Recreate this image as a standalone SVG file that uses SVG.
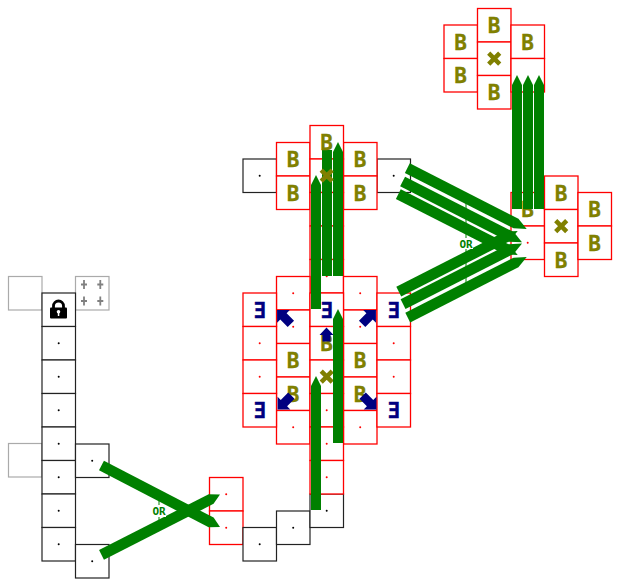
<svg xmlns="http://www.w3.org/2000/svg" width="620" height="586" viewBox="0 0 620 586">
<style>
.r{fill:#fff;stroke:#f00;stroke-width:1.300}
.k{fill:#fff;stroke:#222;stroke-width:1.200}
.g{fill:#fff;stroke:#aaa;stroke-width:1.200}
.b,.e{font-family:"DejaVu Sans Mono","Liberation Mono",monospace;font-weight:700;font-size:21px;text-anchor:middle;stroke-width:.3}
.b{fill:#808000;stroke:#808000}
.e{fill:#000080;stroke:#000080}
.a{fill:#008000}
.n{fill:#000080}
.or{font-family:"DejaVu Sans Mono","Liberation Mono",monospace;font-weight:700;font-size:11px;fill:#008000;text-anchor:middle}
.dr{fill:#f00}
.dk{fill:#000}
</style>
<defs>
<rect id="c" width="33.5" height="33.5"/>
<g id="x"><path d="M-5.500 -5.500L5.500 5.500M5.500 -5.500L-5.500 5.500" fill="none" stroke="#808000" stroke-width="4.500"/></g>
<path id="up" d="M0 -7.500L7 0H4V6.500H-4V0H-7Z"/>
<path id="dg" d="M0 -10.500L9 -1.500H4.500V9H-4.500V-1.500H-9Z"/>
<g id="p"><path d="M0 -4.500V4.500M-3 0H3" stroke="#808080" stroke-width="1.800" fill="none"/></g>
</defs>

<g id="n-gray1"><use href="#c" class="g" x="8.5" y="276.5"/></g>
<g id="n-gray2"><use href="#c" class="g" x="75.5" y="276.5"/><use href="#p" x="84" y="284.500"/><use href="#p" x="100.300" y="284.500"/><use href="#p" x="84" y="301"/><use href="#p" x="100.300" y="301"/></g>
<g id="n-gray3"><use href="#c" class="g" x="8.5" y="443.5"/></g>

<g id="n-col-lock"><use href="#c" class="k" x="42" y="293"/>
<path d="M53.500 308V306A5 5 0 0 1 63.500 306V308" fill="none" stroke="#000" stroke-width="2.800"/>
<rect x="50" y="307.500" width="17" height="11" rx="1"/>
<circle cx="58.500" cy="311.800" r="1.800" fill="#fff"/><rect x="57.800" y="312" width="1.500" height="4" fill="#fff"/></g>
<g id="n-col1"><use href="#c" class="k" x="42" y="326.500"/><circle class="dk" cx="58.700" cy="343.200" r="1"/></g>
<g id="n-col2"><use href="#c" class="k" x="42" y="360"/><circle class="dk" cx="58.700" cy="376.700" r="1"/></g>
<g id="n-col3"><use href="#c" class="k" x="42" y="393.500"/><circle class="dk" cx="58.700" cy="410.200" r="1"/></g>
<g id="n-col4"><use href="#c" class="k" x="42" y="427"/><circle class="dk" cx="58.700" cy="443.700" r="1"/></g>
<g id="n-col5"><use href="#c" class="k" x="42" y="460.500"/><circle class="dk" cx="58.700" cy="477.200" r="1"/></g>
<g id="n-col6"><use href="#c" class="k" x="42" y="494"/><circle class="dk" cx="58.700" cy="510.700" r="1"/></g>
<g id="n-col7"><use href="#c" class="k" x="42" y="527.500"/><circle class="dk" cx="58.700" cy="544.200" r="1"/></g>
<g id="n-in1"><use href="#c" class="k" x="75.5" y="444"/><circle class="dk" cx="92.200" cy="460.700" r="1"/></g>
<g id="n-in2"><use href="#c" class="k" x="75.5" y="544.500"/><circle class="dk" cx="92.200" cy="561.200" r="1"/></g>

<g id="n-or1"><use href="#c" class="r" x="209.5" y="477.500"/><circle class="dr" cx="226.200" cy="494.200" r="1"/></g>
<g id="n-or2"><use href="#c" class="r" x="209.5" y="511"/><circle class="dr" cx="226.200" cy="527.700" r="1"/></g>
<g id="n-s1"><use href="#c" class="k" x="243" y="527.500"/><circle class="dk" cx="259.700" cy="544.200" r="1"/></g>
<g id="n-s2"><use href="#c" class="k" x="276.5" y="511"/><circle class="dk" cx="293.200" cy="527.700" r="1"/></g>
<g id="n-s3"><use href="#c" class="k" x="310" y="494"/><circle class="dk" cx="326.700" cy="510.700" r="1"/></g>

<g id="n-in3"><use href="#c" class="k" x="243" y="159"/><circle class="dk" cx="259.700" cy="175.700" r="1"/></g>
<g id="n-in4"><use href="#c" class="k" x="377" y="159"/><circle class="dk" cx="393.700" cy="175.700" r="1"/></g>
<g id="n-u1"><use href="#c" class="r" x="276.5" y="142.500"/><text class="b" x="293.200" y="167">B</text></g>
<g id="n-u2"><use href="#c" class="r" x="276.5" y="176"/><text class="b" x="293.200" y="200.500">B</text></g>
<g id="n-u3"><use href="#c" class="r" x="343.5" y="142.500"/><text class="b" x="360.200" y="167">B</text></g>
<g id="n-u4"><use href="#c" class="r" x="343.5" y="176"/><text class="b" x="360.200" y="200.500">B</text></g>
<g id="n-u5"><use href="#c" class="r" x="310" y="125.500"/></g>
<g id="n-u6"><use href="#c" class="r" x="310" y="159"/></g>
<g id="n-u7"><use href="#c" class="r" x="310" y="192.500"/></g>
<g id="n-u8"><use href="#c" class="r" x="310" y="226"/></g>
<g id="n-u9"><use href="#c" class="r" x="310" y="259.500"/><circle class="dr" cx="326.700" cy="276.200" r="1"/></g>

<g id="n-l01"><use href="#c" class="r" x="276.5" y="276.500"/><circle class="dr" cx="293.200" cy="293.200" r="1"/></g>
<g id="n-l02"><use href="#c" class="r" x="276.5" y="310"/><circle class="dr" cx="293.200" cy="326.700" r="1"/></g>
<g id="n-l03"><use href="#c" class="r" x="276.5" y="343.500"/><text class="b" x="293.200" y="368">B</text></g>
<g id="n-l04"><use href="#c" class="r" x="276.5" y="377"/><text class="b" x="293.200" y="401.500">B</text></g>
<g id="n-l05"><use href="#c" class="r" x="276.5" y="410.500"/><circle class="dr" cx="293.200" cy="427.200" r="1"/></g>
<g id="n-l06"><use href="#c" class="r" x="343.5" y="276.500"/><circle class="dr" cx="360.200" cy="293.200" r="1"/></g>
<g id="n-l07"><use href="#c" class="r" x="343.5" y="310"/><circle class="dr" cx="360.200" cy="326.700" r="1"/></g>
<g id="n-l08"><use href="#c" class="r" x="343.5" y="343.500"/><text class="b" x="360.200" y="368">B</text></g>
<g id="n-l09"><use href="#c" class="r" x="343.5" y="377"/><text class="b" x="360.200" y="401.500">B</text></g>
<g id="n-l10"><use href="#c" class="r" x="343.5" y="410.500"/><circle class="dr" cx="360.200" cy="427.200" r="1"/></g>
<g id="n-l11"><use href="#c" class="r" x="243" y="293"/><text class="e" x="259.700" y="317.500">Ǝ</text></g>
<g id="n-l12"><use href="#c" class="r" x="243" y="326.500"/><circle class="dr" cx="259.700" cy="343.200" r="1"/></g>
<g id="n-l13"><use href="#c" class="r" x="243" y="360"/><circle class="dr" cx="259.700" cy="376.700" r="1"/></g>
<g id="n-l14"><use href="#c" class="r" x="243" y="393.500"/><text class="e" x="259.700" y="418">Ǝ</text></g>
<g id="n-l15"><use href="#c" class="r" x="377" y="293"/><text class="e" x="393.700" y="317.500">Ǝ</text></g>
<g id="n-l16"><use href="#c" class="r" x="377" y="326.500"/><circle class="dr" cx="393.700" cy="343.200" r="1"/></g>
<g id="n-l17"><use href="#c" class="r" x="377" y="360"/><circle class="dr" cx="393.700" cy="376.700" r="1"/></g>
<g id="n-l18"><use href="#c" class="r" x="377" y="393.500"/><text class="e" x="393.700" y="418">Ǝ</text></g>
<g id="n-l19"><use href="#c" class="r" x="310" y="293"/><text class="e" x="326.700" y="317.500">Ǝ</text></g>
<g id="n-l20"><use href="#c" class="r" x="310" y="326.500"/><text class="b" x="326.700" y="351">B</text></g>
<g id="n-l21"><use href="#c" class="r" x="310" y="360"/><use href="#x" x="326.700" y="376.700"/></g>
<g id="n-l22"><use href="#c" class="r" x="310" y="393.500"/><circle class="dr" cx="326.700" cy="410.200" r="1"/></g>
<g id="n-l23"><use href="#c" class="r" x="310" y="427"/><circle class="dr" cx="326.700" cy="443.700" r="1"/></g>
<g id="n-l24"><use href="#c" class="r" x="310" y="460.500"/><circle class="dr" cx="326.700" cy="477.200" r="1"/></g>

<g id="n-r1"><use href="#c" class="r" x="511" y="192.500"/><text class="b" x="527.700" y="217">B</text></g>
<g id="n-r2"><use href="#c" class="r" x="511" y="226"/><circle class="dr" cx="527.700" cy="242.700" r="1"/></g>
<g id="n-r3"><use href="#c" class="r" x="544.5" y="176"/><text class="b" x="561.200" y="200.500">B</text></g>
<g id="n-r4"><use href="#c" class="r" x="544.5" y="209.500"/><use href="#x" x="561.200" y="226.200"/></g>
<g id="n-r5"><use href="#c" class="r" x="544.5" y="243"/><text class="b" x="561.200" y="267.500">B</text></g>
<g id="n-r6"><use href="#c" class="r" x="578" y="192.500"/><text class="b" x="594.700" y="217">B</text></g>
<g id="n-r7"><use href="#c" class="r" x="578" y="226"/><text class="b" x="594.700" y="250.500">B</text></g>

<g id="n-t1"><use href="#c" class="r" x="444" y="25"/><text class="b" x="460.700" y="49.500">B</text></g>
<g id="n-t2"><use href="#c" class="r" x="444" y="58.500"/><text class="b" x="460.700" y="83">B</text></g>
<g id="n-t3"><use href="#c" class="r" x="477.5" y="8.500"/><text class="b" x="494.200" y="33">B</text></g>
<g id="n-t4"><use href="#c" class="r" x="477.5" y="42"/><use href="#x" x="494.200" y="58.700"/></g>
<g id="n-t5"><use href="#c" class="r" x="477.5" y="75.500"/><text class="b" x="494.200" y="100">B</text></g>
<g id="n-t6"><use href="#c" class="r" x="511" y="25"/><text class="b" x="527.700" y="49.500">B</text></g>
<g id="n-t7"><use href="#c" class="r" x="511" y="58.500"/></g>

<g id="connectors">
<path d="M159 500V520M466 203V283" stroke="#008000" stroke-width="1" fill="none"/>
<polygon class="a" transform="translate(220 494.500) rotate(-27)" points="0,0 -10,-5.400 -133,-5.400 -133,5.400 -10,5.400"/>
<polygon class="a" transform="translate(220 527) rotate(27.400)" points="0,0 -10,-5.400 -133.500,-5.400 -133.500,5.400 -10,5.400"/>
<polygon class="a" transform="translate(517.700 231) rotate(-27)" points="0,0 -12,-5.400 -133.500,-5.400 -133.500,5.400 -12,5.400"/>
<polygon class="a" transform="translate(522 243.500) rotate(-27)" points="0,0 -12,-5.400 -133.500,-5.400 -133.500,5.400 -12,5.400"/>
<polygon class="a" transform="translate(526.700 257) rotate(-27)" points="0,0 -12,-5.400 -133.500,-5.400 -133.500,5.400 -12,5.400"/>
<polygon class="a" transform="translate(526.700 229) rotate(27)" points="0,0 -12,-5.400 -134,-5.400 -134,5.400 -12,5.400"/>
<polygon class="a" transform="translate(522 242.300) rotate(27)" points="0,0 -12,-5.400 -134,-5.400 -134,5.400 -12,5.400"/>
<polygon class="a" transform="translate(517.700 255) rotate(27)" points="0,0 -12,-5.400 -134,-5.400 -134,5.400 -12,5.400"/>
<polygon class="a" points="316,175 321,185 321,309 311,309 311,185"/>
<rect class="a" x="322" y="150" width="10" height="126"/>
<polygon class="a" points="338,142 343,152 343,276 333,276 333,152"/>
<polygon class="a" points="316,376 321,386 321,510 311,510 311,386"/>
<polygon class="a" points="338,309 343,319 343,443 333,443 333,319"/>
<polygon class="a" points="517,75 522,85 522,209 512,209 512,85"/>
<polygon class="a" points="528,75 533,85 533,209 523,209 523,85"/>
<polygon class="a" points="539,75 544,85 544,209 534,209 534,85"/>
</g>
<g id="or-labels">
<rect x="152" y="505" width="14" height="12" fill="#fff"/><text class="or" x="159" y="515">OR</text>
<rect x="459" y="238" width="14" height="11" fill="#fff"/><text class="or" x="466" y="247.500">OR</text>
</g>
<g id="n-top-b"><text class="b" x="326.700" y="150">B</text><use href="#x" x="326.700" y="175.700"/></g>
<g id="n-arrows" class="n">
<use href="#up" x="326.500" y="335"/>
<use href="#dg" transform="translate(284.500 317.500) rotate(-45)"/>
<use href="#dg" transform="translate(368.500 317.500) rotate(45)"/>
<use href="#dg" transform="translate(285 402) rotate(-135)"/>
<use href="#dg" transform="translate(369 402) rotate(135)"/>
</g>
</svg>
